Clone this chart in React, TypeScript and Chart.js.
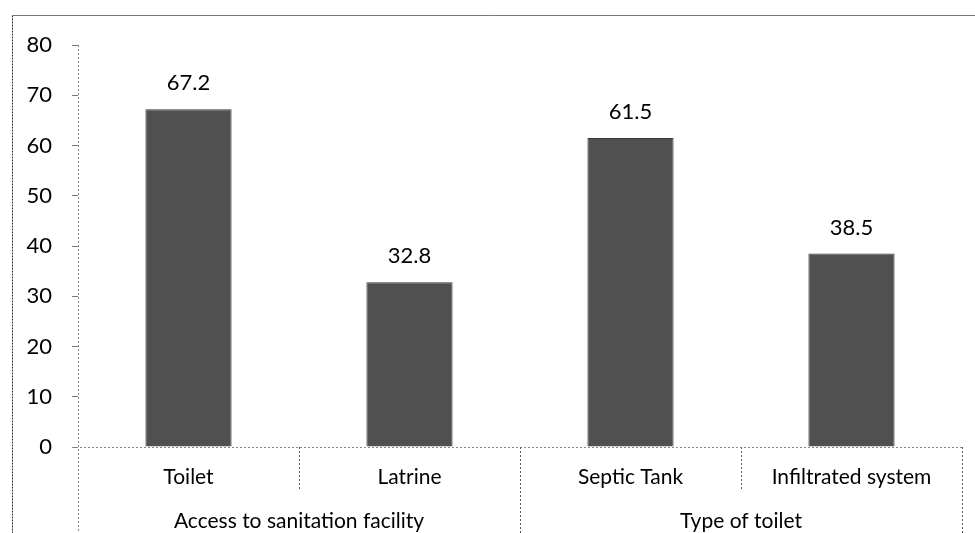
import React, { useEffect, useRef } from "react";
import { Chart, registerables } from "chart.js";

Chart.register(...registerables);

const categories = ["Toilet", "Latrine", "Septic Tank", "Infiltrated system"];
const values = [67.2, 32.8, 61.5, 38.5];
const groups = ["Access to sanitation facility", "Type of toilet"];
const groupSizes = [2, 2];
const yTicks = { min: 0, max: 80, step: 10 };

const FONT = "Lato, 'Open Sans', sans-serif";

const extrasPlugin = {
  id: "extras",
  afterDraw(chart: any) {
    const { ctx, scales, chartArea } = chart;
    const x = scales.x;
    const y = scales.y;
    const bottom = chart.height;
    const y0 = y.getPixelForValue(0);
    const half = (x.getPixelForValue(1) - x.getPixelForValue(0)) / 2;
    ctx.save();
    // frame
    ctx.strokeStyle = "#777";
    ctx.lineWidth = 1;
    ctx.beginPath();
    ctx.moveTo(12.5, 15.5);
    ctx.lineTo(chart.width, 15.5);
    ctx.stroke();
    ctx.strokeStyle = "#333";
    ctx.setLineDash([2, 1]);
    ctx.beginPath();
    ctx.moveTo(12.5, 15.5);
    ctx.lineTo(12.5, bottom);
    ctx.stroke();
    // axis lines
    ctx.strokeStyle = "#888";
    ctx.setLineDash([2, 2]);
    ctx.beginPath();
    ctx.moveTo(chartArea.left + 0.5, chartArea.top);
    ctx.lineTo(chartArea.left + 0.5, bottom);
    ctx.moveTo(chartArea.left - 6, y0 + 0.5);
    ctx.lineTo(chartArea.right, y0 + 0.5);
    ctx.stroke();
    // dividers between categories
    ctx.strokeStyle = "#555";
    let idx = 0;
    const groupEdges: number[] = [chartArea.left];
    groupSizes.forEach((n) => {
      for (let k = 1; k < n; k++) {
        const px = Math.round(x.getPixelForValue(idx + k) - half) + 0.5;
        ctx.beginPath();
        ctx.moveTo(px, y0);
        ctx.lineTo(px, y0 + 43);
        ctx.stroke();
      }
      idx += n;
      groupEdges.push(x.getPixelForValue(idx - 1) + half);
    });
    groupEdges.forEach((e, i) => {
      if (i === 0) return;
      const px = Math.round(e) + 0.5;
      ctx.beginPath();
      ctx.moveTo(px, y0);
      ctx.lineTo(px, bottom);
      ctx.stroke();
    });
    // group labels
    ctx.setLineDash([]);
    ctx.fillStyle = "#000";
    ctx.font = `21px ${FONT}`;
    ctx.textAlign = "center";
    ctx.textBaseline = "middle";
    groups.forEach((g, i) => {
      ctx.fillText(g, (groupEdges[i] + groupEdges[i + 1]) / 2, 521);
    });
    // value labels
    ctx.font = `22px ${FONT}`;
    const meta = chart.getDatasetMeta(0);
    meta.data.forEach((bar: any, i: number) => {
      ctx.fillText(String(values[i]), bar.x, bar.y - 26);
    });
    ctx.restore();
  },
};

export default function App() {
  const ref = useRef<HTMLCanvasElement>(null);
  useEffect(() => {
    if (!ref.current) return;
    const chart = new Chart(ref.current, {
      type: "bar",
      data: {
        labels: categories,
        datasets: [
          {
            data: values,
            backgroundColor: "#505050",
            borderColor: "#3a3a3a",
            borderWidth: 1,
            barPercentage: 0.39,
            categoryPercentage: 1,
          },
        ],
      },
      options: {
        animation: false,
        responsive: false,
        layout: { padding: { top: 45, right: 13, left: 0, bottom: 0 } },
        plugins: { legend: { display: false }, tooltip: { enabled: false } },
        scales: {
          x: {
            grid: { display: false },
            border: { display: false },
            ticks: { color: "#000", font: { family: FONT, size: 21 }, padding: 10, maxRotation: 0, autoSkip: false },
            afterFit(scale: any) {
              scale.height = 86;
            },
          },
          y: {
            min: yTicks.min,
            max: yTicks.max,
            ticks: { stepSize: yTicks.step, color: "#000", font: { family: FONT, size: 22 }, padding: 20 },
            grid: { drawOnChartArea: false, tickLength: 6, color: "#777" },
            border: { display: false },
            afterFit(scale: any) {
              scale.width = 78;
            },
          },
        },
      },
      plugins: [extrasPlugin],
    });
    return () => chart.destroy();
  }, []);
  return (
    <div style={{ position: "fixed", left: 0, top: 0, width: 975, height: 533, background: "#fff" }}>
      <canvas ref={ref} width={975} height={533} />
    </div>
  );
}
